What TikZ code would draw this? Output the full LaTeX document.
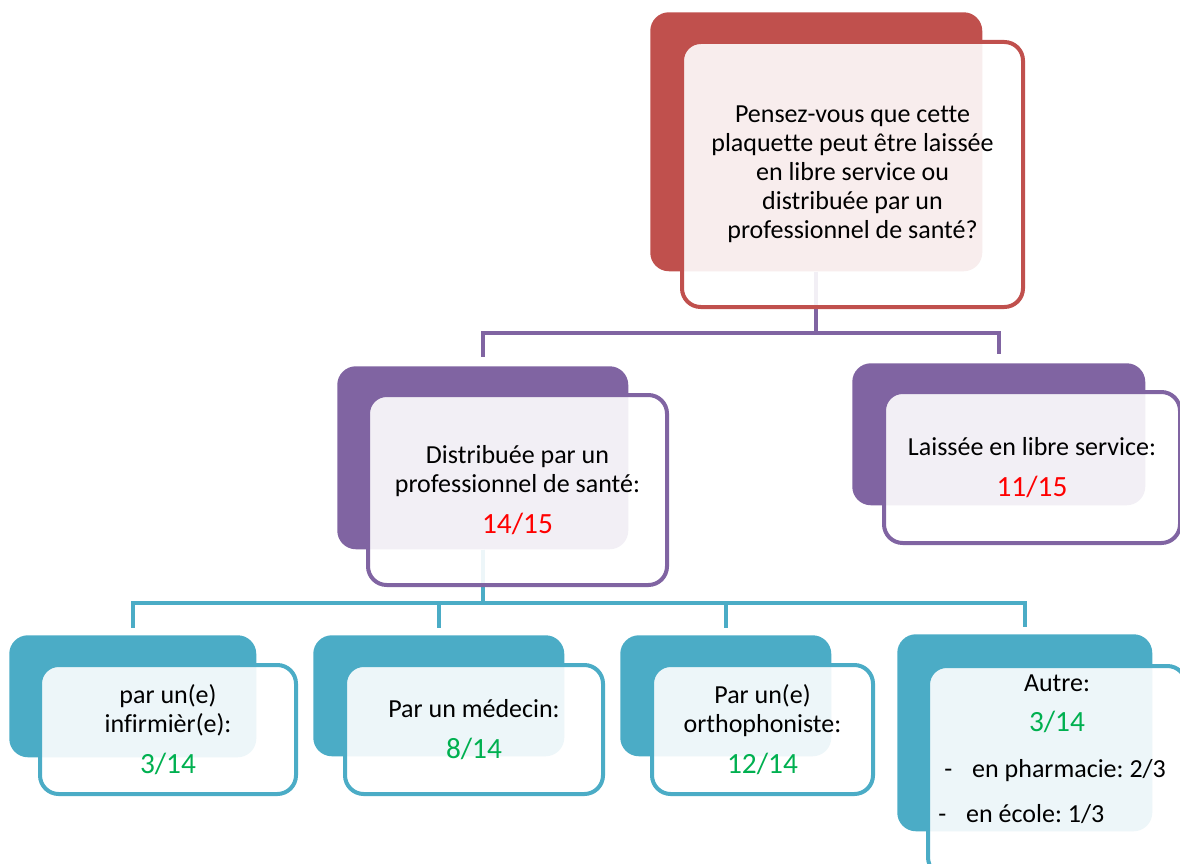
\documentclass[tikz,border=0pt]{standalone}
\usepackage{fontspec}
\setmainfont{Carlito}[Ligatures=NoCommon]
\usetikzlibrary{positioning}
\frenchspacing
\definecolor{qred}{HTML}{C0504D}
\definecolor{lvpurple}{HTML}{8064A2}
\definecolor{lvteal}{HTML}{4BACC6}
\definecolor{numred}{HTML}{FF0000}
\definecolor{numgreen}{HTML}{00B050}
\newcommand\nbred[1]{{\fontsize{22}{21.75}\selectfont\color{numred}#1}}
\newcommand\nbgreen[1]{{\fontsize{22}{21.75}\selectfont\color{numgreen}#1}}
\tikzset{
  backbox/.style={fill=#1, rounded corners=14pt, anchor=north west, inner sep=0pt},
  frontbox/.style={draw=#1, line width=3pt, fill=white, fill opacity=0.9, text opacity=1,
    rounded corners=14pt, anchor=north west, align=center, inner sep=0pt,
    font=\fontsize{19.5}{21.75}\selectfont},
  txt/.style={inner sep=0pt, font=\fontsize{19.5}{21.75}\selectfont},
  link/.style={draw=#1, line width=3pt},
}

\begin{document}
\begin{tikzpicture}[x=0.75pt,y=-0.75pt]
  \useasboundingbox (0,0) rectangle (1180,863);
  \clip (0,0) rectangle (1180,863);

  % back shapes
  \node[backbox=qred, minimum width=249pt, minimum height=194.25pt] (qback) at (650,12) {};
  \node[backbox=lvpurple, minimum width=218.25pt, minimum height=137.25pt] (distback) at (337,366) {};
  \node[backbox=lvpurple, minimum width=219.75pt, minimum height=106.5pt] (libreback) at (852,363) {};
  \node[backbox=lvteal, minimum width=185.25pt, minimum height=91.5pt] (infback) at (9,635) {};
  \node[backbox=lvteal, minimum width=188.25pt, minimum height=90.75pt] (medback) at (313,635) {};
  \node[backbox=lvteal, minimum width=158.25pt, minimum height=90.75pt] (orthoback) at (620,635) {};
  \node[backbox=lvteal, minimum width=191.25pt, minimum height=147.75pt] (autreback) at (897,634) {};

  % connectors
  \draw[link=lvpurple, shorten >=7pt] (qback.south) -- ++(0,61) -| (distback.north);
  \draw[link=lvpurple, shorten >=7pt] (qback.south) -- ++(0,61) -| (libreback.north);
  \draw[link=lvteal, shorten >=5pt] (distback.south) -- ++(0,53) -| (infback.north);
  \draw[link=lvteal, shorten >=5pt] (distback.south) -- ++(0,53) -| (medback.north);
  \draw[link=lvteal, shorten >=5pt] (distback.south) -- ++(0,53) -| (orthoback.north);
  \draw[link=lvteal, shorten >=5pt] (distback.south) -- ++(0,53) -| (autreback.north);

  % front shapes with text
  \node[frontbox=qred, minimum width=255.75pt, minimum height=198.75pt] (question) at (680,40)
    {Pensez-vous que cette\\plaquette peut être laissée\\en libre service ou\\distribuée par un\\professionnel de santé?};
  \node[frontbox=lvpurple, minimum width=224.25pt, minimum height=142.5pt] (distrib) at (366,393)
    {Distribuée par un\\professionnel de santé:\\[9pt]\nbred{14/15}};
  \node[frontbox=lvpurple, minimum width=222pt, minimum height=113.25pt] (libre) at (882,390)
    {Laissée en libre service:\\[9pt]\nbred{11/15}};
  \node[frontbox=lvteal, minimum width=192pt, minimum height=96.75pt] (infirm) at (38,663)
    {par un(e)\\infirmièr(e):\\[9pt]\nbgreen{3/14}};
  \node[frontbox=lvteal, minimum width=193.5pt, minimum height=96.75pt] (medecin) at (343,663)
    {Par un médecin:\\[9pt]\nbgreen{8/14}};
  \node[frontbox=lvteal, minimum width=165.75pt, minimum height=96.75pt] (ortho) at (650,663)
    {Par un(e)\\orthophoniste:\\[9pt]\nbgreen{12/14}};
  \node[frontbox=lvteal, minimum width=193.5pt, minimum height=157.5pt] (autrefront) at (926,664) {};

  \node[txt, anchor=base] (autre) at (1057,691) {Autre:};
  \node[txt, anchor=base] (autrenb) at (1057,731) {\nbgreen{3/14}};
  \node[txt, anchor=base west] (pharma) at (944,777) {-\hspace{15pt}en pharmacie: 2/3};
  \node[txt, anchor=base west] (ecole) at (938,822) {-\hspace{15pt}en école: 1/3};
\end{tikzpicture}
\end{document}
